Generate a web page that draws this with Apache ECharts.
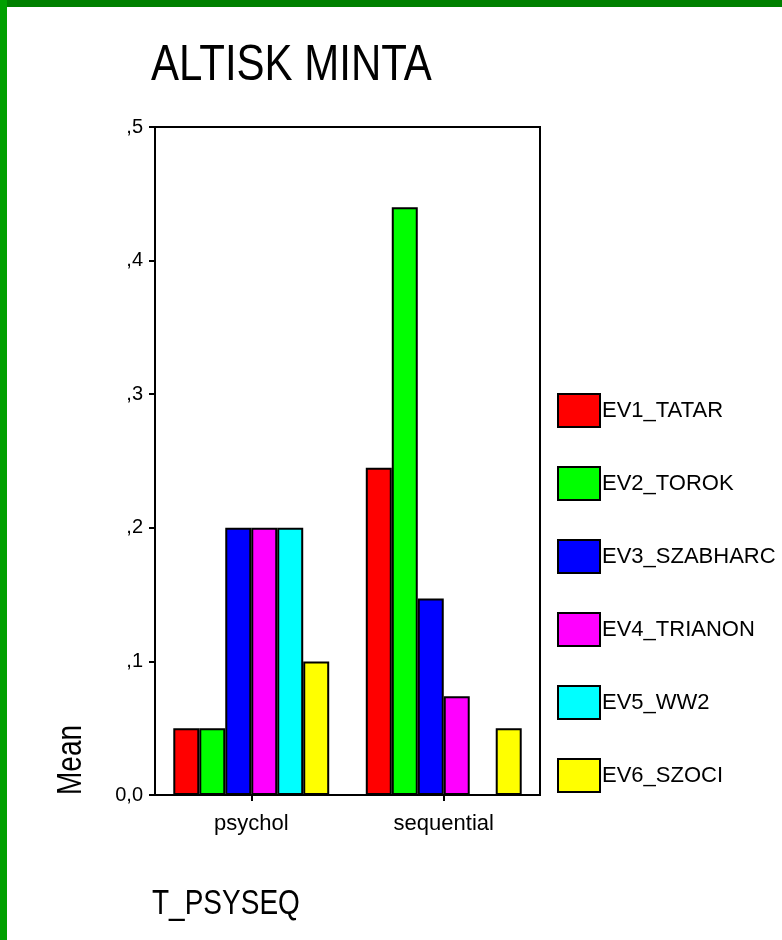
<!DOCTYPE html>
<html>
<head>
<meta charset="utf-8">
<script src="https://cdn.jsdelivr.net/npm/echarts@6/dist/echarts.min.js"></script>
<style>
  html, body { margin: 0; padding: 0; background: #fff; }
  #chart { width: 782px; height: 940px; }
</style>
</head>
<body>
<div id="chart"></div>
<script>
// ---- data ----
const categories = ['psychol', 'sequential'];
const seriesNames = ['EV1_TATAR', 'EV2_TOROK', 'EV3_SZABHARC', 'EV4_TRIANON', 'EV5_WW2', 'EV6_SZOCI'];
const ev1 = [0.05, 0.245];
const ev2 = [0.05, 0.44];
const ev3 = [0.2, 0.147];
const ev4 = [0.2, 0.074];
const ev5 = [0.2, 0];
const ev6 = [0.1, 0.05];
const seriesColors = ['#ff0000', '#00ff00', '#0000ff', '#ff00ff', '#00ffff', '#ffff00'];
const yTickLabels = ['0,0', ',1', ',2', ',3', ',4', ',5'];
const titleText = 'ALTISK MINTA';
const yName = 'Mean';
const xName = 'T_PSYSEQ';

const seriesValues = [ev1, ev2, ev3, ev4, ev5, ev6];
const REG = '"Liberation Sans", Arial, sans-serif';

const chart = echarts.init(document.getElementById('chart'), null, { renderer: 'canvas' });

const option = {
  backgroundColor: '#ffffff',
  animation: false,
  grid: {
    left: 155, right: 242, top: 127, bottom: 145,
    show: true, borderColor: '#000', borderWidth: 2, backgroundColor: 'transparent'
  },
  legend: {
    orient: 'vertical',
    left: 557, top: 393,
    padding: 0,
    itemWidth: 42, itemHeight: 33, itemGap: 38,
    icon: 'rect',
    data: seriesNames,
    itemStyle: { borderColor: '#000', borderWidth: 2 },
    textStyle: { fontFamily: REG, fontSize: 22, color: '#000', padding: [0, 0, 0, -3] }
  },
  xAxis: {
    type: 'category',
    data: categories,
    axisLine: { show: true, lineStyle: { color: '#000', width: 2 } },
    axisTick: { show: true, alignWithLabel: true, length: 6, lineStyle: { color: '#000', width: 2 } },
    axisLabel: { color: '#000', fontFamily: REG, fontSize: 22, margin: 18 },
    splitLine: { show: false }
  },
  yAxis: {
    type: 'value',
    min: 0, max: 0.5, interval: 0.1,
    axisLine: { show: true, lineStyle: { color: '#000', width: 2 } },
    axisTick: { show: true, length: 6, lineStyle: { color: '#000', width: 2 } },
    axisLabel: {
      color: '#000', fontFamily: REG, fontSize: 20, margin: 12,
      formatter: function (v) { return yTickLabels[Math.round(v * 10)]; }
    },
    splitLine: { show: false }
  },
  series: seriesNames.map(function (name, i) {
    return {
      name: name,
      type: 'bar',
      data: seriesValues[i],
      barGap: '0%',
      barCategoryGap: '19%',
      itemStyle: { color: seriesColors[i], borderColor: '#000', borderWidth: 2 },
      emphasis: { disabled: true }
    };
  }),
  graphic: [
    { type: 'rect', left: 0, top: 0, shape: { width: 782, height: 7 }, style: { fill: '#008000' }, z: 100 },
    { type: 'rect', left: 0, top: 0, shape: { width: 7, height: 940 }, style: { fill: '#00a000' }, z: 100 },
    { type: 'text', x: 151, y: 66, scaleY: 1.2, style: { text: titleText, fontFamily: REG, fontSize: 42, fill: '#000', textVerticalAlign: 'middle', textAlign: 'left' } },
    { type: 'text', x: 152, y: 905, scaleY: 1.22, style: { text: xName, fontFamily: REG, fontSize: 28, fill: '#000', textVerticalAlign: 'middle', textAlign: 'left' } },
    { type: 'text', x: 71, y: 760, rotation: Math.PI / 2, scaleY: 1.25, style: { text: yName, fontFamily: REG, fontSize: 28, fill: '#000', textVerticalAlign: 'middle', textAlign: 'center' } }
  ]
};
chart.setOption(option);
</script>
</body>
</html>
